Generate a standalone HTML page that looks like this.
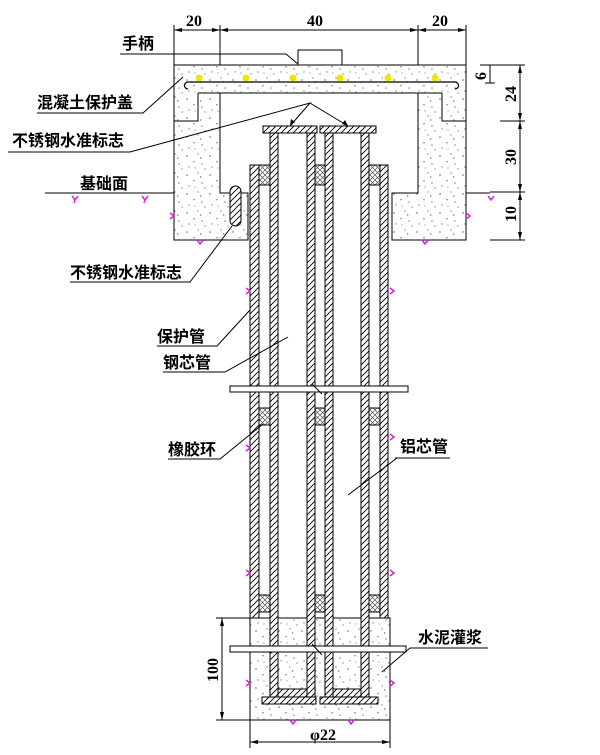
<!DOCTYPE html>
<html><head><meta charset="utf-8"><style>
html,body{margin:0;padding:0;background:#fff;}
svg{display:block;}
text{font-family:"Liberation Sans","Noto Sans CJK SC",sans-serif;fill:#000;}
.l{font-size:16px;font-weight:bold;}
.d{font-family:"Liberation Serif",serif;font-size:16px;font-weight:bold;}
</style></head><body>
<svg width="600" height="755" viewBox="0 0 600 755" xmlns="http://www.w3.org/2000/svg">
<defs>
<pattern id="h" width="6" height="6" patternUnits="userSpaceOnUse"><rect width="6" height="6" fill="#fff"/><path d="M-1,7 L7,-1 M-1,1 L1,-1 M5,7 L7,5" stroke="#000" stroke-width="0.9"/></pattern>
<pattern id="x" width="5" height="5" patternUnits="userSpaceOnUse"><rect width="5" height="5" fill="#fff"/><path d="M0,5 L5,0 M0,0 L5,5" stroke="#555" stroke-width="0.7"/></pattern>
<pattern id="c" width="23" height="19" patternUnits="userSpaceOnUse"><rect width="23" height="19" fill="#fff"/><g fill="#888"><circle cx="3" cy="4" r="0.9"/><circle cx="14" cy="2" r="0.7"/><path d="M9,9 l2,0 l-1,2z"/><circle cx="18" cy="12" r="0.8"/><circle cx="5" cy="15" r="0.7"/><path d="M16,5 l2,1 l-2,1z"/><circle cx="11" cy="16" r="0.6"/><circle cx="21" cy="17" r="0.7"/></g></pattern>
</defs>
<g stroke="#000" stroke-width="1" fill="none">
<path d="M174,65 H466 V240 H392 V193 H418 V93 H220 V193 H248 V240 H174 Z" fill="url(#c)"/>
<path d="M198,93 V121 H174 M442,93 V121 H466"/>
<path d="M198,93 H442"/>
<path d="M188,82 H455 a3.5,3.5 0 0 1 0,7 M188,82 a3.5,3.5 0 0 0 0,7" stroke-width="1.2"/>
<rect x="298" y="50" width="44" height="15" fill="#fff"/>
<path d="M174,30 H466 M174,25 V65 M220,25 V65 M418,25 V65 M466,25 V65"/>
<path d="M45,193 H174 M466,193 H490"/>
<rect x="230" y="186" width="11" height="40" rx="5.5" fill="url(#h)"/>
<rect x="250" y="618" width="140" height="102" fill="url(#c)"/>
<rect x="250" y="165" width="9" height="453" fill="url(#h)"/>
<rect x="380" y="165" width="8" height="453" fill="url(#h)"/>
<rect x="270" y="133" width="8" height="564" fill="url(#h)"/>
<rect x="307" y="133" width="8" height="564" fill="url(#h)"/>
<rect x="325" y="133" width="8" height="564" fill="url(#h)"/>
<rect x="361" y="133" width="8" height="564" fill="url(#h)"/>
<rect x="278" y="689" width="29" height="8" fill="url(#h)"/>
<rect x="333" y="689" width="28" height="8" fill="url(#h)"/>
<rect x="263" y="126" width="54" height="7" fill="url(#h)"/>
<rect x="320" y="126" width="56" height="7" fill="url(#h)"/>
<rect x="262" y="697" width="54" height="7" fill="url(#h)"/>
<rect x="320" y="697" width="58" height="7" fill="url(#h)"/>
<g fill="url(#x)">
<rect x="259" y="165" width="11" height="20"/><rect x="315" y="165" width="10" height="20"/><rect x="369" y="165" width="11" height="20"/>
<rect x="259" y="408" width="11" height="17"/><rect x="315" y="408" width="10" height="17"/><rect x="369" y="408" width="11" height="17"/>
<rect x="259" y="595" width="11" height="17"/><rect x="315" y="595" width="10" height="17"/><rect x="369" y="595" width="11" height="17"/>
</g>
<rect x="230" y="386" width="178" height="6" fill="#fff"/>
<path d="M312,384 L322,394"/>
<rect x="230" y="646" width="176" height="6" fill="#fff"/>
<path d="M312,644 L322,655"/>
<path d="M520,65 V240 M480,65 H525 M500,121 H525 M490,192 H525 M490,240 H525 M490,65 V83 M485,83 H495"/>
<path d="M250,720 V748 M390,720 V748 M250,742 H390"/>
<path d="M222,618 V720 M216,618 H250 M216,720 H250"/>
<path d="M120,54 H286 L298,64"/>
<path d="M37,113 H143 L183,77"/>
<path d="M8,152 H130 L310,103 L290,126 M310,103 L348,126"/>
<path d="M70,282 H190 L232,226"/>
<path d="M157,346 H217 L250,310"/>
<path d="M163,372 H225 L288,337"/>
<path d="M168,459 H220 L263,424"/>
<path d="M395,458 H450 M397,458 L348,495"/>
<path d="M410,648 H488 M410,648 L382,672"/>
</g>
<g fill="#000">
<path d="M174,30 l8,-2 v4z M220,30 l-8,-2 v4z M220,30 l8,-2 v4z M418,30 l-8,-2 v4z M418,30 l8,-2 v4z M466,30 l-8,-2 v4z"/>
<path d="M520,65 l-2,8 h4z M520,121 l-2,-8 h4z M520,121 l-2,8 h4z M520,192 l-2,-8 h4z M520,192 l-2,8 h4z M520,240 l-2,-8 h4z"/>
<path d="M250,742 l8,-2 v4z M390,742 l-8,-2 v4z M222,618 l-2,8 h4z M222,720 l-2,-8 h4z"/>
<path d="M290,126 l1,-7 l4,3z M348,126 l-6,-2 l3,-4z"/>
</g>
<g fill="#f5e400"><circle cx="199" cy="78" r="3.5"/><circle cx="246" cy="78" r="3.5"/><circle cx="293" cy="78" r="3.5"/><circle cx="340" cy="78" r="3.5"/><circle cx="388" cy="78" r="3.5"/><circle cx="435" cy="78" r="3.5"/></g>
<g stroke="#e020e0" stroke-width="1.5" fill="none">
<path d="M72,196 l3,4 l3,-4 M75,200 l-1,3"/><path d="M142,196 l3,4 l3,-4 M145,200 l-1,3"/>
<path d="M170,213 l4,3 l-4,3"/><path d="M466,213 l4,3 l-4,3"/>
<path d="M197,240 l3,4 l3,-4"/><path d="M422,240 l3,4 l3,-4"/><path d="M488,196 l3,4 l3,-4"/>
<path d="M246,288 l4,3 l-4,3"/><path d="M390,288 l4,3 l-4,3"/>
<path d="M246,445 l4,3 l-4,3"/><path d="M390,434 l4,3 l-4,3"/>
<path d="M246,570 l4,3 l-4,3"/><path d="M390,570 l4,3 l-4,3"/>
<path d="M246,680 l4,3 l-4,3"/><path d="M390,680 l4,3 l-4,3"/>
<path d="M290,720 l3,4 l3,-4"/><path d="M348,720 l3,4 l3,-4"/>
</g>
<text class="l" x="122" y="49">手柄</text>
<text class="l" x="37" y="108">混凝土保护盖</text>
<text class="l" x="12" y="146">不锈钢水准标志</text>
<text class="l" x="80" y="189">基础面</text>
<text class="l" x="70" y="278">不锈钢水准标志</text>
<text class="l" x="157" y="342">保护管</text>
<text class="l" x="163" y="368">钢芯管</text>
<text class="l" x="168" y="455">橡胶环</text>
<text class="l" x="400" y="452">铝芯管</text>
<text class="l" x="418" y="643">水泥灌浆</text>
<text class="d" x="186" y="26">20</text>
<text class="d" x="307" y="26">40</text>
<text class="d" x="432" y="26">20</text>
<text class="d" x="310" y="740">φ22</text>
<text class="d" transform="translate(486,80) rotate(-90)">6</text>
<text class="d" transform="translate(516,102) rotate(-90)">24</text>
<text class="d" transform="translate(516,165) rotate(-90)">30</text>
<text class="d" transform="translate(516,222) rotate(-90)">10</text>
<text class="d" transform="translate(218,682) rotate(-90)">100</text>
</svg>
</body></html>
